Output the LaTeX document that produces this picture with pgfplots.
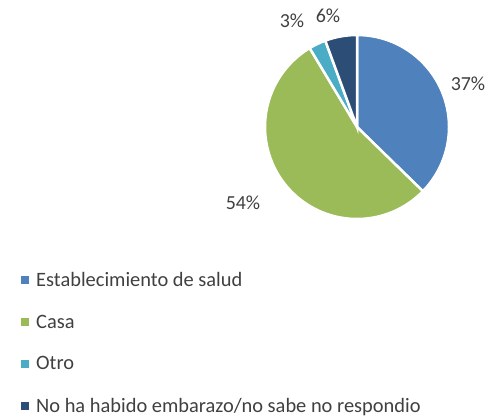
\documentclass[border=0pt]{standalone}
\usepackage{fontspec}
\setmainfont{Carlito}
\usepackage{pgfplots}
\usepackage{pgfplotstable}
\pgfplotsset{compat=1.18}

\definecolor{cEst}{HTML}{4F81BD}
\definecolor{cCasa}{HTML}{9BBB59}
\definecolor{cOtro}{HTML}{4BACC6}
\definecolor{cNo}{HTML}{2C4D75}
\definecolor{txt}{HTML}{404040}

% share (%), shown label, label position in pixels (x right, y down)
\pgfplotstableread{
value pct lx ly col
37.3 37 468 84 cEst
54.1 54 243 203 cCasa
3.0 3 292 21 cOtro
5.6 6 328 16 cNo
}\piedata

\begin{document}
\begin{tikzpicture}
\begin{axis}[
    x=1bp, y=1bp,
    xmin=0, xmax=495, ymin=0, ymax=418,
    hide axis, clip=false,
    font=\fontsize{20}{24}\selectfont,
    legend image code/.code={\fill[#1, draw=none] (0bp,-4bp) rectangle (8bp,4bp);},
    legend style={at={(axis cs:21,146)}, anchor=north west, draw=none, fill=none,
        text=txt, row sep=27bp, inner sep=0pt,
        nodes={inner sep=0pt, text=txt, font=\fontsize{20.5}{24}\selectfont},
        /tikz/column 1/.style={column sep=7bp}},
    legend cell align=left,
]
\path (axis cs:0,0) rectangle (axis cs:495,418);
\def\cum{0}
\pgfplotsforeachungrouped \i in {0,...,3}{
  \pgfplotstablegetelem{\i}{value}\of\piedata \let\v\pgfplotsretval
  \pgfplotstablegetelem{\i}{col}\of\piedata \let\c\pgfplotsretval
  \pgfplotstablegetelem{\i}{pct}\of\piedata \let\p\pgfplotsretval
  \pgfplotstablegetelem{\i}{lx}\of\piedata \let\lx\pgfplotsretval
  \pgfplotstablegetelem{\i}{ly}\of\piedata \pgfmathsetmacro\ly{418-\pgfplotsretval}
  \pgfmathsetmacro\a{90-3.6*\cum}
  \pgfmathsetmacro\b{90-3.6*(\cum+\v)}
  \edef\temp{\noexpand\fill[\c, draw=white, line width=2.5bp]
    (axis cs:357,291) -- ++(\a:92bp) arc[start angle=\a, end angle=\b, radius=92bp] -- cycle;
    \noexpand\node[text=txt] at (axis cs:\lx,\ly) {\p\noexpand\%};}
  \temp
  \pgfmathsetmacro\cum{\cum+\v}
  \global\let\cum\cum
}
\addlegendimage{fill=cEst}
\addlegendentry{Establecimiento de salud}
\addlegendimage{fill=cCasa}
\addlegendentry{Casa}
\addlegendimage{fill=cOtro}
\addlegendentry{Otro}
\addlegendimage{fill=cNo}
\addlegendentry{No ha habido embarazo/no sabe no respondio}
\end{axis}
\end{tikzpicture}
\end{document}
